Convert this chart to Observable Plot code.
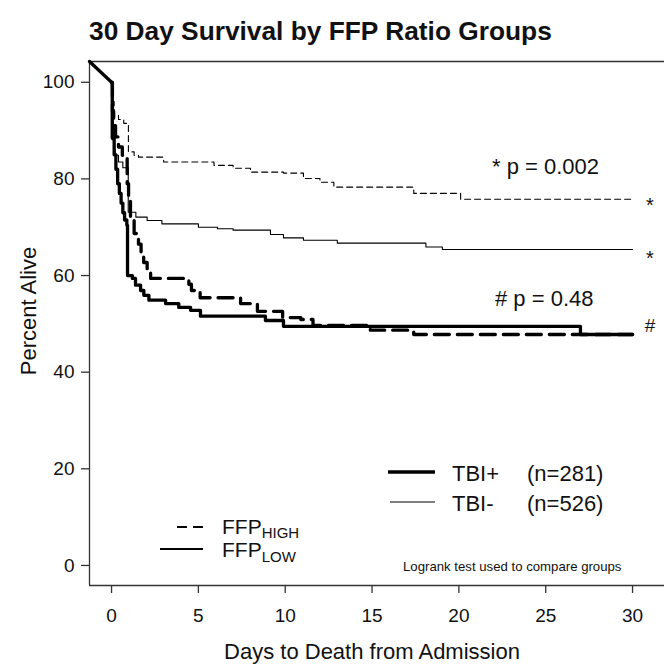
<!DOCTYPE html>
<html><head><meta charset="utf-8">
<script src="https://cdn.jsdelivr.net/npm/d3@7"></script>
<script src="https://cdn.jsdelivr.net/npm/@observablehq/plot@0.6"></script>
<style>body{margin:0;background:#fff;} svg{display:block}</style>
</head><body><div id="chart"></div>
<script>
// ---- scales / ticks ----
const xTicks = [0, 5, 10, 15, 20, 25, 30];
const yTicks = [0, 20, 40, 60, 80, 100];
const xDomain = [-1.27, 31.84];
const yDomain = [-4.15, 104.3];

// lead-in segment drawn from the corner to (0, 100)
const leadDay = [-1.27, 0];
const leadPct = [104.3, 100];

// TBI- , FFP high (thin dashed)
const negHighDay = [0, 0.08, 0.15, 0.4, 0.7, 0.97, 1.3, 1.55, 3.0, 5.9, 7.0, 8.0, 9.9, 11.05, 12.0, 12.8, 17.4, 20.1, 30];
const negHighPct = [100, 96, 93.2, 92.3, 91.5, 85.6, 84.9, 84.5, 83.5, 82.8, 82.2, 81.4, 81.2, 80.1, 79.3, 78.3, 77.0, 75.8, 75.8];

// TBI- , FFP low (thin solid)
const negLowDay = [0, 0.03, 0.06, 0.09, 0.13, 0.2, 0.4, 0.65, 0.96, 1.4, 2.05, 2.9, 5.0, 6.1, 7.0, 9.15, 9.9, 11.05, 13.0, 18.1, 19.05, 30];
const negLowPct = [100, 96, 92, 88, 86, 84.9, 83.5, 82.3, 73.1, 72.1, 71.4, 70.7, 70.0, 69.7, 69.4, 68.5, 67.8, 67.3, 66.7, 65.9, 65.4, 65.4];

// TBI+ , FFP high (thick dashed)
const posHighDay = [0, 0.05, 0.12, 0.23, 0.4, 0.62, 0.9, 0.98, 1.09, 1.3, 1.55, 1.7, 1.85, 2.05, 2.25, 4.45, 4.6, 5.1, 7.43, 8.4, 9.85, 10.9, 11.6, 14.9, 17.4, 30];
const posHighPct = [100, 94, 91, 88.7, 86.6, 84.9, 79, 75.6, 71.8, 68.7, 66.5, 64.8, 62.7, 61.1, 59.4, 58.2, 56.9, 55.4, 54.2, 52.6, 51.3, 50.9, 49.7, 48.7, 47.8, 47.8];

// TBI+ , FFP low (thick solid)
const posLowDay = [0, 0.04, 0.15, 0.25, 0.35, 0.45, 0.55, 0.65, 0.75, 0.88, 0.92, 1.2, 1.38, 1.67, 1.86, 2.15, 3.11, 3.87, 4.55, 5.12, 8.86, 9.9, 27.0, 30];
const posLowPct = [100, 88.4, 85, 82, 79, 77, 75, 73, 71.5, 70.4, 60.0, 59.4, 58.0, 56.9, 55.9, 54.9, 54.2, 53.4, 52.8, 51.6, 50.7, 49.5, 47.8, 47.8];

const rows = (days, pcts) => days.map((d, i) => ({day: d, pct: pcts[i]}));

const FONT = "'Liberation Sans', Arial, Helvetica, sans-serif";
const INK = "#111";

const plot = Plot.plot({
  width: 664, height: 667,
  marginLeft: 89, marginRight: 0, marginTop: 61, marginBottom: 82,
  x: {domain: xDomain},
  y: {domain: yDomain},
  style: {fontFamily: FONT, fontSize: "19px", color: INK, background: "#fff"},
  marks: [
    Plot.ruleY([yDomain[1]], {stroke: "#333", strokeWidth: 1.3}),
    Plot.ruleY([yDomain[0]], {stroke: "#333", strokeWidth: 1.3}),
    Plot.ruleX([xDomain[0]], {stroke: "#333", strokeWidth: 1.3}),
    Plot.axisX({ticks: xTicks, tickSize: 8, tickPadding: 15, label: null, stroke: "#333", strokeWidth: 1.3, fontSize: 19}),
    Plot.axisY({ticks: yTicks, tickSize: 8, tickPadding: 7, label: null, stroke: "#333", strokeWidth: 1.3, fontSize: 19}),
    Plot.line(rows(leadDay, leadPct), {x: "day", y: "pct", stroke: "#000", strokeWidth: 3.3}),
    Plot.line(rows(negHighDay, negHighPct), {x: "day", y: "pct", curve: "step-after", stroke: "#000", strokeWidth: 1.1, strokeDasharray: "6,4"}),
    Plot.line(rows(negLowDay, negLowPct), {x: "day", y: "pct", curve: "step-after", stroke: "#000", strokeWidth: 1.1}),
    Plot.line(rows(posHighDay, posHighPct), {x: "day", y: "pct", curve: "step-after", stroke: "#000", strokeWidth: 3.3, strokeDasharray: "15,8"}),
    Plot.line(rows(posLowDay, posLowPct), {x: "day", y: "pct", curve: "step-after", stroke: "#000", strokeWidth: 3.3})
  ]
});

document.getElementById("chart").appendChild(plot);
const svg = d3.select(plot);
const g = svg.append("g").attr("font-family", FONT).attr("fill", INK).attr("text-anchor", "start");

// title
g.append("text").attr("x", 89).attr("y", 40).attr("font-size", 26.3).attr("font-weight", "bold")
  .text("30 Day Survival by FFP Ratio Groups");
// axis titles
g.append("text").attr("transform", "translate(36,311) rotate(-90)").attr("text-anchor", "middle")
  .attr("font-size", 22).text("Percent Alive");
g.append("text").attr("x", 372).attr("y", 659).attr("text-anchor", "middle")
  .attr("font-size", 22).text("Days to Death from Admission");

// p-value annotations
g.append("text").attr("x", 492).attr("y", 174).attr("font-size", 22).text("* p = 0.002");
g.append("text").attr("x", 495).attr("y", 306).attr("font-size", 22).text("# p = 0.48");
g.append("text").attr("x", 650).attr("y", 212).attr("text-anchor", "middle").attr("font-size", 20).text("*");
g.append("text").attr("x", 650).attr("y", 265).attr("text-anchor", "middle").attr("font-size", 20).text("*");
g.append("text").attr("x", 650).attr("y", 332).attr("text-anchor", "middle").attr("font-size", 19).text("#");

// TBI legend
g.append("line").attr("x1", 388).attr("x2", 435).attr("y1", 472).attr("y2", 472).attr("stroke", "#000").attr("stroke-width", 3.5);
g.append("line").attr("x1", 390).attr("x2", 435).attr("y1", 502).attr("y2", 502).attr("stroke", "#000").attr("stroke-width", 1);
g.append("text").attr("x", 452).attr("y", 481).attr("font-size", 22).text("TBI+");
g.append("text").attr("x", 527).attr("y", 481).attr("font-size", 22).text("(n=281)");
g.append("text").attr("x", 452).attr("y", 511).attr("font-size", 22).text("TBI-");
g.append("text").attr("x", 527).attr("y", 511).attr("font-size", 22).text("(n=526)");

// FFP legend
g.append("line").attr("x1", 177).attr("x2", 203).attr("y1", 527).attr("y2", 527).attr("stroke", "#000").attr("stroke-width", 2).attr("stroke-dasharray", "10,6");
g.append("line").attr("x1", 160).attr("x2", 203).attr("y1", 549).attr("y2", 549).attr("stroke", "#000").attr("stroke-width", 2);
const t1 = g.append("text").attr("x", 222).attr("y", 534).attr("font-size", 21);
t1.append("tspan").text("FFP");
t1.append("tspan").attr("font-size", 15).attr("dy", 4).text("HIGH");
const t2 = g.append("text").attr("x", 222).attr("y", 557).attr("font-size", 21);
t2.append("tspan").text("FFP");
t2.append("tspan").attr("font-size", 15).attr("dy", 5).text("LOW");

g.append("text").attr("x", 403).attr("y", 571).attr("font-size", 13.2).text("Logrank test used to compare groups");
</script></body></html>
